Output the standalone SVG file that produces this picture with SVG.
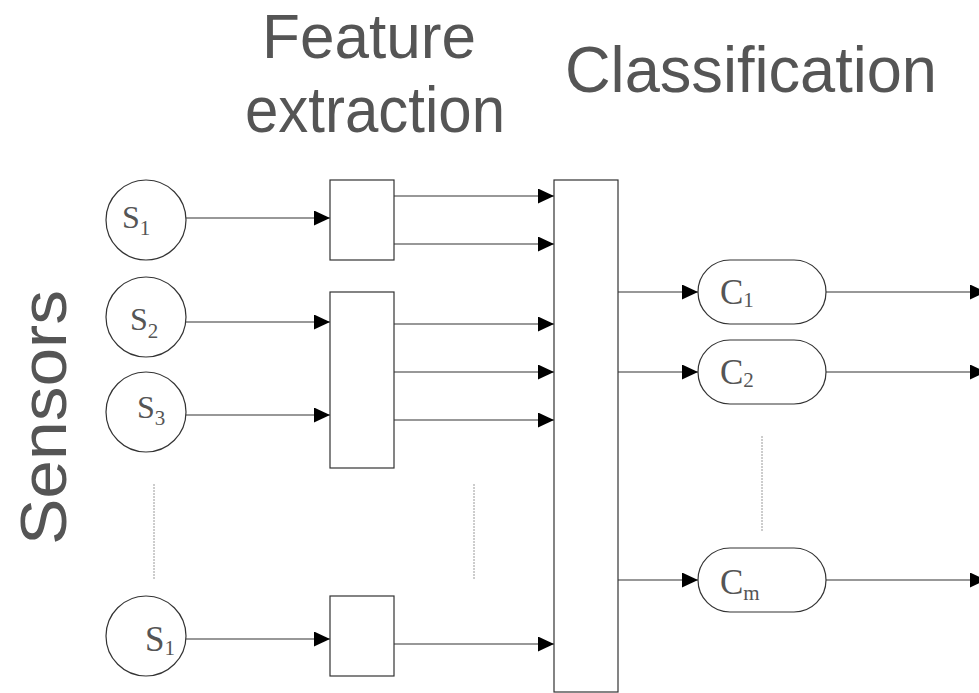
<svg xmlns="http://www.w3.org/2000/svg" width="979" height="693" viewBox="0 0 979 693">
<style>
.title{font-family:"Liberation Sans",Arial,sans-serif;font-size:65px;fill:#555555}
.lbl{font-family:"Liberation Serif","Times New Roman",serif;font-size:32px;fill:#555555}
.clbl{font-size:35px}
.sub{font-size:21px}
.shape{fill:#ffffff;stroke:#333333;stroke-width:1.2}
.conn{stroke:#333333;stroke-width:1.2;fill:none;marker-end:url(#arr)}
.dot{stroke:#9a9a9a;stroke-width:1;stroke-dasharray:2,1;fill:none}
</style>
<defs>
<marker id="arr" markerUnits="userSpaceOnUse" markerWidth="16" markerHeight="15" refX="16" refY="7.5" orient="auto">
<path d="M0,0 L16,7.5 L0,15 Z" fill="#000000"/>
</marker>
</defs>
<rect width="979" height="693" fill="#ffffff"/>
<g id="titles">
<text class="title" x="262" y="58" textLength="214" lengthAdjust="spacingAndGlyphs" style="font-size:63px">Feature</text>
<text class="title" x="245" y="132" textLength="260" lengthAdjust="spacingAndGlyphs">extraction</text>
<text class="title" x="565" y="92" textLength="372" lengthAdjust="spacingAndGlyphs">Classification</text>
<text class="title" transform="translate(66,545) rotate(-90)" textLength="255" lengthAdjust="spacingAndGlyphs">Sensors</text>
</g>
<g id="connectors">
<line class="conn" x1="186" y1="218" x2="330" y2="218"/>
<line class="conn" x1="186" y1="322" x2="330" y2="322"/>
<line class="conn" x1="186" y1="415" x2="330" y2="415"/>
<line class="conn" x1="186" y1="639" x2="330" y2="639"/>
<line class="conn" x1="394" y1="196" x2="554" y2="196"/>
<line class="conn" x1="394" y1="244" x2="554" y2="244"/>
<line class="conn" x1="394" y1="324" x2="554" y2="324"/>
<line class="conn" x1="394" y1="372" x2="554" y2="372"/>
<line class="conn" x1="394" y1="420" x2="554" y2="420"/>
<line class="conn" x1="394" y1="644" x2="554" y2="644"/>
<line class="conn" x1="618" y1="292" x2="698" y2="292"/>
<line class="conn" x1="618" y1="372" x2="698" y2="372"/>
<line class="conn" x1="618" y1="580" x2="698" y2="580"/>
<line class="conn" x1="826" y1="292" x2="986" y2="292"/>
<line class="conn" x1="826" y1="372" x2="986" y2="372"/>
<line class="conn" x1="826" y1="580" x2="986" y2="580"/>
<line class="dot" x1="154" y1="484" x2="154" y2="579"/>
<line class="dot" x1="474" y1="484" x2="474" y2="579"/>
<line class="dot" x1="762" y1="436" x2="762" y2="532"/>
</g>
<g id="sensor-1">
<circle class="shape" cx="146" cy="220" r="40"/>
<text class="lbl" x="122" y="228">S<tspan class="sub" y="235">1</tspan></text>
</g>
<g id="sensor-2">
<circle class="shape" cx="146" cy="317" r="40"/>
<text class="lbl" x="130" y="330">S<tspan class="sub" y="338">2</tspan></text>
</g>
<g id="sensor-3">
<circle class="shape" cx="146" cy="412" r="40"/>
<text class="lbl" x="137" y="418">S<tspan class="sub" y="425">3</tspan></text>
</g>
<g id="sensor-n">
<circle class="shape" cx="146" cy="636" r="40"/>
<text class="lbl" x="145" y="651" style="font-size:35px">S<tspan class="sub" y="655">1</tspan></text>
</g>
<g id="fe-1"><rect class="shape" x="330" y="180" width="64" height="80"/></g>
<g id="fe-2"><rect class="shape" x="330" y="292" width="64" height="176"/></g>
<g id="fe-3"><rect class="shape" x="330" y="596" width="64" height="80"/></g>
<g id="classifier"><rect class="shape" x="554" y="180" width="64" height="512"/></g>
<g id="class-1">
<rect class="shape" x="698" y="260" width="128" height="64" rx="32" ry="32"/>
<text class="lbl clbl" x="720" y="304">C<tspan class="sub" y="307">1</tspan></text>
</g>
<g id="class-2">
<rect class="shape" x="698" y="340" width="128" height="64" rx="32" ry="32"/>
<text class="lbl clbl" x="720" y="384">C<tspan class="sub" y="387">2</tspan></text>
</g>
<g id="class-m">
<rect class="shape" x="698" y="548" width="128" height="64" rx="32" ry="32"/>
<text class="lbl clbl" x="720" y="594">C<tspan class="sub" y="600">m</tspan></text>
</g>
</svg>
